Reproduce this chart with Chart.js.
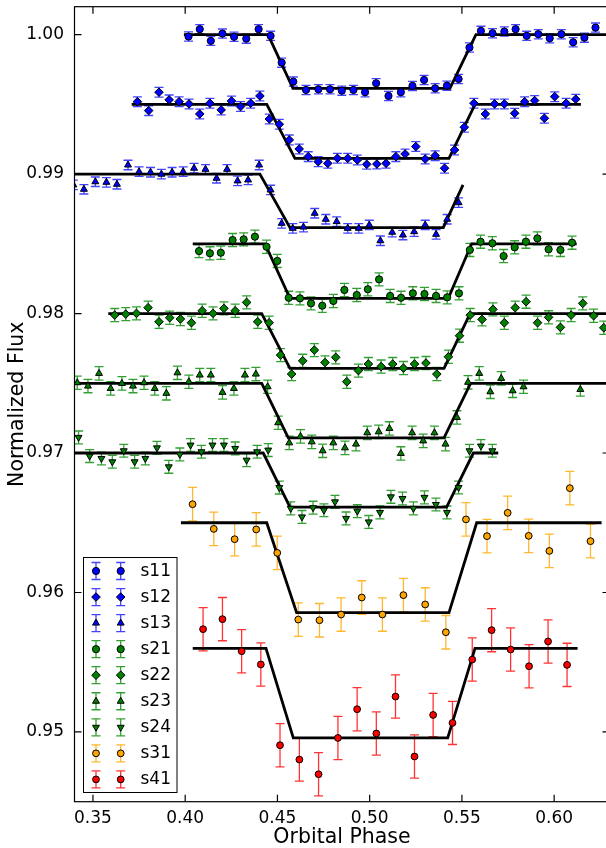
<!DOCTYPE html>
<html>
<head>
<meta charset="utf-8">
<script src="https://cdn.jsdelivr.net/npm/chart.js@4/dist/chart.umd.min.js"></script>
<style>
  html, body { margin: 0; padding: 0; background: #fff; overflow: hidden; width: 606px; height: 848px; }
  #wrap { width: 620px; height: 848px; }
  canvas { display: block; }
</style>
</head>
<body>
<div id="wrap"><canvas id="lc" width="620" height="848"></canvas></div>
<script>
// ---- axis ticks ----
const xTicks = [0.35, 0.40, 0.45, 0.50, 0.55, 0.60];
const yTicks = [0.95, 0.96, 0.97, 0.98, 0.99, 1.00];

// ---- light-curve measurements (orbital phase, normalized flux) ----
const s11Phase = [0.4018,0.4079,0.4139,0.4202,0.4265,0.4331,0.4398,0.4463,0.4523,0.4586,0.4655,0.4722,0.4785,0.4849,0.4912,0.4975,0.5035,0.5102,0.5169,0.5232,0.5295,0.5355,0.5419,0.5482,0.5541,0.5603,0.5666,0.5730,0.5791,0.5851,0.5914,0.5976,0.6039,0.6103,0.6164,0.6224];
const s11Flux  = [0.99986,1.00039,0.99955,1.00007,0.99984,0.99971,1.00039,0.99991,0.99799,0.99663,0.99603,0.99608,0.99608,0.99598,0.99603,0.99587,0.99651,0.99560,0.99587,0.99632,0.99675,0.99615,0.99634,0.99682,0.99907,1.00027,1.00010,1.00022,1.00039,0.99991,1.00003,0.99974,1.00003,0.99945,0.99978,1.00050];

const s12Phase = [0.3741,0.3802,0.3858,0.3913,0.3967,0.4021,0.4079,0.4134,0.4195,0.4251,0.4300,0.4355,0.4405,0.4456,0.4510,0.4564,0.4618,0.4667,0.4721,0.4773,0.4825,0.4881,0.4933,0.4984,0.5039,0.5089,0.5142,0.5192,0.5250,0.5301,0.5355,0.5406,0.5460,0.5513,0.5565,0.5627,0.5677,0.5730,0.5786,0.5840,0.5894,0.5947,0.6003,0.6065,0.6117];
const s12Flux  = [0.99519,0.99455,0.99587,0.99532,0.99519,0.99503,0.99431,0.99508,0.99460,0.99524,0.99484,0.99508,0.99560,0.99395,0.99357,0.99245,0.99180,0.99125,0.99089,0.99077,0.99113,0.99113,0.99101,0.99070,0.99072,0.99077,0.99125,0.99144,0.99197,0.99108,0.99132,0.99042,0.99173,0.99336,0.99508,0.99431,0.99503,0.99503,0.99436,0.99519,0.99527,0.99400,0.99555,0.99508,0.99537];

const s13Phase = [0.3394,0.3451,0.3513,0.3573,0.3630,0.3690,0.3750,0.3812,0.3871,0.3929,0.3989,0.4048,0.4110,0.4170,0.4227,0.4284,0.4341,0.4401,0.4463,0.4523,0.4583,0.4641,0.4702,0.4762,0.4821,0.4881,0.4941,0.4998,0.5058,0.5122,0.5180,0.5241,0.5301,0.5360,0.5420,0.5482];
const s13Flux  = [0.98922,0.98891,0.98945,0.98941,0.98927,0.99065,0.99017,0.99013,0.98999,0.99013,0.99017,0.99042,0.99034,0.98970,0.99034,0.98951,0.98958,0.99065,0.98886,0.98647,0.98611,0.98620,0.98719,0.98676,0.98659,0.98611,0.98611,0.98635,0.98522,0.98583,0.98563,0.98587,0.98635,0.98568,0.98676,0.98795];

const s21Phase = [0.4075,0.4134,0.4193,0.4257,0.4317,0.4378,0.4441,0.4499,0.4561,0.4622,0.4682,0.4743,0.4803,0.4863,0.4930,0.4990,0.5051,0.5111,0.5170,0.5234,0.5297,0.5360,0.5420,0.5484,0.5543,0.5601,0.5665,0.5726,0.5786,0.5847,0.5909,0.5970,0.6034,0.6097];
const s21Flux  = [0.98448,0.98432,0.98436,0.98527,0.98532,0.98551,0.98479,0.98377,0.98113,0.98109,0.98073,0.98056,0.98090,0.98169,0.98133,0.98174,0.98245,0.98126,0.98113,0.98145,0.98140,0.98126,0.98116,0.98145,0.98456,0.98515,0.98504,0.98412,0.98475,0.98515,0.98539,0.98461,0.98456,0.98508];

const s22Phase = [0.3618,0.3678,0.3736,0.3799,0.3858,0.3916,0.3974,0.4034,0.4092,0.4151,0.4210,0.4271,0.4333,0.4393,0.4455,0.4517,0.4577,0.4637,0.4700,0.4758,0.4816,0.4876,0.4939,0.4993,0.5062,0.5125,0.5183,0.5243,0.5305,0.5364,0.5427,0.5487,0.5545,0.5609,0.5668,0.5730,0.5789,0.5848,0.5910,0.5970,0.6034,0.6092,0.6155,0.6214,0.6269];
const s22Flux  = [0.97989,0.97996,0.98001,0.98042,0.97941,0.97970,0.97961,0.97934,0.98020,0.98001,0.98037,0.98020,0.98080,0.97941,0.97934,0.97702,0.97566,0.97661,0.97738,0.97649,0.97686,0.97511,0.97591,0.97638,0.97620,0.97638,0.97609,0.97638,0.97645,0.97566,0.97690,0.97841,0.97989,0.97958,0.98030,0.97934,0.98042,0.98085,0.97934,0.97973,0.97901,0.97989,0.98073,0.97984,0.97898];

const s23Phase = [0.3415,0.3473,0.3533,0.3596,0.3657,0.3717,0.3777,0.3835,0.3898,0.3958,0.4020,0.4079,0.4139,0.4202,0.4264,0.4324,0.4383,0.4447,0.4504,0.4564,0.4625,0.4686,0.4745,0.4803,0.4866,0.4926,0.4987,0.5049,0.5107,0.5169,0.5230,0.5290,0.5351,0.5411,0.5473,0.5533,0.5594,0.5654,0.5713,0.5775,0.5834,0.6142];
const s23Flux  = [0.97504,0.97480,0.97571,0.97463,0.97499,0.97480,0.97504,0.97463,0.97428,0.97575,0.97511,0.97559,0.97559,0.97435,0.97463,0.97559,0.97566,0.97475,0.97217,0.97073,0.97119,0.97080,0.97016,0.97073,0.97037,0.97064,0.97145,0.97152,0.97176,0.96997,0.97145,0.97087,0.97145,0.97064,0.97255,0.97507,0.97571,0.97439,0.97535,0.97446,0.97475,0.97456];

const s24Phase = [0.3422,0.3482,0.3546,0.3605,0.3667,0.3726,0.3784,0.3847,0.3911,0.3971,0.4029,0.4088,0.4148,0.4210,0.4271,0.4333,0.4390,0.4450,0.4510,0.4572,0.4633,0.4693,0.4752,0.4812,0.4872,0.4933,0.4995,0.5056,0.5115,0.5178,0.5237,0.5297,0.5359,0.5419,0.5482,0.5541,0.5603,0.5665];
const s24Flux  = [0.97112,0.96978,0.96961,0.96937,0.97016,0.96937,0.96961,0.97037,0.96901,0.96990,0.97057,0.97009,0.97057,0.97057,0.97033,0.96949,0.97009,0.97021,0.96752,0.96603,0.96542,0.96608,0.96590,0.96650,0.96531,0.96583,0.96506,0.96574,0.96686,0.96674,0.96603,0.96682,0.96631,0.96574,0.96753,0.97016,0.97050,0.97016];

const s31Phase = [0.4040,0.4155,0.4268,0.4385,0.4499,0.4613,0.4728,0.4845,0.4957,0.5069,0.5183,0.5301,0.5413,0.5522,0.5636,0.5748,0.5862,0.5974,0.6085,0.6197];
const s31Flux  = [0.96633,0.96456,0.96382,0.96452,0.96284,0.95806,0.95801,0.95842,0.95964,0.95842,0.95981,0.95914,0.95715,0.96524,0.96404,0.96571,0.96406,0.96298,0.96748,0.96368];

const s41Phase = [0.4097,0.4202,0.4306,0.4410,0.4514,0.4619,0.4723,0.4828,0.4932,0.5036,0.5140,0.5243,0.5344,0.5449,0.5556,0.5661,0.5764,0.5864,0.5967,0.6070];
const s41Flux  = [0.95737,0.95809,0.95579,0.95484,0.94905,0.94802,0.94697,0.94957,0.95163,0.94989,0.95254,0.94824,0.95122,0.95065,0.95519,0.95730,0.95591,0.95471,0.95649,0.95481];

// one-sigma flux uncertainty per light curve
const fluxErr = [0.00033, 0.00035, 0.00034, 0.00047, 0.00047, 0.00048, 0.00046, 0.0012, 0.00155];

// ---- fitted transit models (contact points) ----
const m11Phase = [0.3993,0.4449,0.4584,0.5435,0.5576,0.6300];
const m11Flux  = [1.000,1.000,0.99615,0.99615,1.000,1.000];
const m12Phase = [0.3710,0.4442,0.4595,0.5430,0.5571,0.6145];
const m12Flux  = [0.995,0.995,0.99113,0.99113,0.995,0.995];
const m13Phase = [0.3400,0.4405,0.4568,0.5399,0.5506];
const m13Flux  = [0.990,0.990,0.98616,0.98616,0.98922];
const m21Phase = [0.4041,0.4433,0.4568,0.5426,0.5553,0.6122];
const m21Flux  = [0.985,0.985,0.98109,0.98109,0.985,0.985];
const m22Phase = [0.3583,0.4415,0.4568,0.5403,0.5544,0.6300];
const m22Flux  = [0.980,0.980,0.97607,0.97607,0.980,0.980];
const m23Phase = [0.3400,0.4415,0.4559,0.5403,0.5547,0.6300];
const m23Flux  = [0.975,0.975,0.97109,0.97109,0.975,0.975];
const m24Phase = [0.3400,0.4423,0.4568,0.5417,0.5562,0.5697];
const m24Flux  = [0.970,0.970,0.96612,0.96612,0.970,0.970];
const m31Phase = [0.3977,0.4442,0.4604,0.5430,0.5580,0.6257];
const m31Flux  = [0.965,0.965,0.95856,0.95856,0.965,0.965];
const m41Phase = [0.4041,0.4438,0.4586,0.5423,0.5571,0.6127];
const m41Flux  = [0.956,0.956,0.94957,0.94957,0.956,0.956];

const seriesNames = ['s11','s12','s13','s21','s22','s23','s24','s31','s41'];
const seriesPhase = [s11Phase,s12Phase,s13Phase,s21Phase,s22Phase,s23Phase,s24Phase,s31Phase,s41Phase];
const seriesFlux  = [s11Flux,s12Flux,s13Flux,s21Flux,s22Flux,s23Flux,s24Flux,s31Flux,s41Flux];
const modelPhase  = [m11Phase,m12Phase,m13Phase,m21Phase,m22Phase,m23Phase,m24Phase,m31Phase,m41Phase];
const modelFlux   = [m11Flux,m12Flux,m13Flux,m21Flux,m22Flux,m23Flux,m24Flux,m31Flux,m41Flux];

// ---- marker styles ----
const BLUE = {fill: '#0000ff', bar: 'rgba(20,20,255,0.8)'};
const GREEN = {fill: '#008000', bar: 'rgba(0,135,0,0.8)'};
const ORANGE = {fill: '#ffa500', bar: 'rgba(255,170,10,0.85)'};
const RED = {fill: '#ff0000', bar: 'rgba(255,0,0,0.8)'};
const styles = [
  {c: BLUE,   shape: 'circle',  r: 3.6, rot: 0},
  {c: BLUE,   shape: 'rectRot', r: 4.3, rot: 0},
  {c: BLUE,   shape: 'triangle', r: 4.0, rot: 0},
  {c: GREEN,  shape: 'circle',  r: 3.6, rot: 0},
  {c: GREEN,  shape: 'rectRot', r: 4.3, rot: 0},
  {c: GREEN,  shape: 'triangle', r: 4.0, rot: 0},
  {c: GREEN,  shape: 'triangle', r: 4.0, rot: 180},
  {c: ORANGE, shape: 'circle',  r: 3.4, rot: 0},
  {c: RED,    shape: 'circle',  r: 3.4, rot: 0}
];
const CAP = 4.5;

const toPoints = (xs, ys) => xs.map((x, i) => ({x: x, y: ys[i]}));

const datasets = [];
seriesNames.forEach((name, i) => {
  const st = styles[i];
  datasets.push({
    label: name,
    data: toPoints(seriesPhase[i], seriesFlux[i]),
    showLine: false,
    pointStyle: st.shape,
    rotation: st.rot,
    pointRadius: st.r,
    pointHoverRadius: st.r,
    backgroundColor: st.c.fill,
    borderColor: '#000',
    borderWidth: 1,
    errorBar: fluxErr[i],
    errorColor: st.c.bar,
    order: 0,
    clip: 0
  });
  datasets.push({
    label: name + ' model',
    data: toPoints(modelPhase[i], modelFlux[i]),
    showLine: true,
    pointRadius: 0,
    pointHoverRadius: 0,
    borderColor: '#000',
    borderWidth: 2.8,
    tension: 0,
    fill: false,
    order: 1,
    clip: 0
  });
});

function markerPath(ctx, shape, r, rot, x, y) {
  ctx.beginPath();
  if (shape === 'circle') {
    ctx.arc(x, y, r, 0, Math.PI * 2);
  } else if (shape === 'rectRot') {
    ctx.moveTo(x - r, y); ctx.lineTo(x, y - r); ctx.lineTo(x + r, y); ctx.lineTo(x, y + r);
    ctx.closePath();
  } else {
    let a = rot * Math.PI / 180;
    for (let k = 0; k < 3; k++) {
      const px = x + Math.sin(a) * r, py = y - Math.cos(a) * r;
      if (k === 0) ctx.moveTo(px, py); else ctx.lineTo(px, py);
      a += Math.PI * 2 / 3;
    }
    ctx.closePath();
  }
}

function errBar(ctx, x, yTop, yBot, color) {
  ctx.strokeStyle = color;
  ctx.lineWidth = 1.3;
  ctx.beginPath();
  ctx.moveTo(x, yTop); ctx.lineTo(x, yBot);
  ctx.moveTo(x - CAP, yTop); ctx.lineTo(x + CAP, yTop);
  ctx.moveTo(x - CAP, yBot); ctx.lineTo(x + CAP, yBot);
  ctx.stroke();
}

// vertical flux error bars under every measured point
const errorBarPlugin = {
  id: 'fluxErrorBars',
  beforeDatasetsDraw(chart) {
    const {ctx, chartArea: a} = chart;
    const xs = chart.scales.x, ys = chart.scales.y;
    ctx.save();
    ctx.beginPath();
    ctx.rect(a.left, a.top, a.right - a.left, a.bottom - a.top);
    ctx.clip();
    chart.data.datasets.forEach(ds => {
      if (ds.errorBar == null) return;
      ds.data.forEach(p => {
        const px = xs.getPixelForValue(p.x);
        errBar(ctx, px, ys.getPixelForValue(p.y + ds.errorBar), ys.getPixelForValue(p.y - ds.errorBar), ds.errorColor);
      });
    });
    ctx.restore();
  }
};

// axes frame with inward tick marks on all four sides
const framePlugin = {
  id: 'frameTicks',
  afterDatasetsDraw(chart) {
    const {ctx, chartArea: a} = chart;
    const xs = chart.scales.x, ys = chart.scales.y;
    const L = 7;
    ctx.save();
    ctx.strokeStyle = '#000';
    ctx.lineWidth = 1.2;
    ctx.strokeRect(a.left, a.top, a.right - a.left, a.bottom - a.top);
    ctx.beginPath();
    xTicks.forEach(v => {
      const px = xs.getPixelForValue(v);
      ctx.moveTo(px, a.bottom); ctx.lineTo(px, a.bottom - L);
      ctx.moveTo(px, a.top); ctx.lineTo(px, a.top + L);
    });
    yTicks.forEach(v => {
      const py = ys.getPixelForValue(v);
      ctx.moveTo(a.left, py); ctx.lineTo(a.left + L, py);
      ctx.moveTo(a.right, py); ctx.lineTo(a.right - L, py);
    });
    ctx.stroke();
    ctx.restore();
  }
};

// boxed legend: two sample markers with error bars per entry
const legendPlugin = {
  id: 'seriesLegend',
  afterDraw(chart) {
    const ctx = chart.ctx;
    const box = {x: 83.5, y: 557.5, w: 93.5, h: 235};
    ctx.save();
    ctx.fillStyle = '#fff';
    ctx.fillRect(box.x, box.y, box.w, box.h);
    ctx.strokeStyle = '#000';
    ctx.lineWidth = 1;
    ctx.strokeRect(box.x, box.y, box.w, box.h);
    ctx.font = '17px "DejaVu Sans"';
    ctx.textBaseline = 'middle';
    ctx.textAlign = 'left';
    seriesNames.forEach((name, i) => {
      const st = styles[i];
      const cy = 571 + i * 26.05;
      [96, 120.7].forEach(cx => {
        errBar(ctx, cx, cy - 8.5, cy + 8.5, st.c.bar);
        markerPath(ctx, st.shape, st.r, st.rot, cx, cy);
        ctx.fillStyle = st.c.fill;
        ctx.fill();
        ctx.strokeStyle = '#000';
        ctx.lineWidth = 1;
        ctx.stroke();
      });
      ctx.fillStyle = '#000';
      ctx.fillText(name, 140.5, cy + 0.5);
    });
    ctx.restore();
  }
};

Chart.defaults.font.family = '"DejaVu Sans", "Liberation Sans", sans-serif';
Chart.defaults.color = '#000';

new Chart(document.getElementById('lc'), {
  type: 'scatter',
  data: {datasets: datasets},
  options: {
    responsive: false,
    animation: false,
    events: [],
    devicePixelRatio: 1,
    layout: {padding: {left: 0, right: 10.5, top: 6.7, bottom: 0}},
    plugins: {legend: {display: false}, tooltip: {enabled: false}},
    scales: {
      x: {
        type: 'linear',
        position: 'bottom',
        min: 0.34,
        max: 0.63,
        afterBuildTicks: s => { s.ticks = xTicks.map(v => ({value: v})); },
        afterFit: s => { s.height = 46.3; s.paddingLeft = 0; s.paddingRight = 0; },
        grid: {display: false},
        border: {display: false},
        ticks: {
          autoSkip: false,
          maxRotation: 0,
          padding: -1.5,
          font: {size: 17},
          color: '#000',
          callback: v => Number(v).toFixed(2)
        },
        title: {
          display: true,
          text: 'Orbital Phase',
          font: {size: 20.5, lineHeight: 1},
          color: '#000',
          padding: {top: 0, bottom: 0}
        }
      },
      y: {
        type: 'linear',
        position: 'left',
        min: 0.945,
        max: 1.002,
        afterBuildTicks: s => { s.ticks = yTicks.map(v => ({value: v})); },
        afterFit: s => { s.width = 74.5; s.paddingTop = 0; s.paddingBottom = 0; },
        grid: {display: false},
        border: {display: false},
        ticks: {
          autoSkip: false,
          padding: 2.5,
          font: {size: 17},
          color: '#000',
          callback: v => Number(v).toFixed(2)
        },
        title: {
          display: true,
          text: 'Normalized Flux',
          font: {size: 20.5, lineHeight: 1},
          color: '#000',
          padding: {top: 7.6, bottom: 0}
        }
      }
    }
  },
  plugins: [errorBarPlugin, framePlugin, legendPlugin]
});
</script>
</body>
</html>
